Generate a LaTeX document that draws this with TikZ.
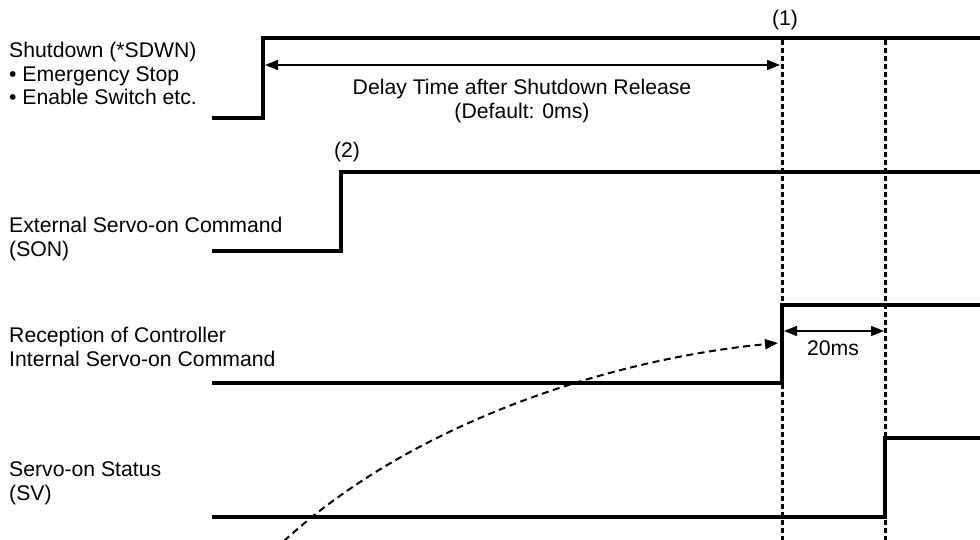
\documentclass[tikz,border=0pt]{standalone}
\usepackage{fontspec}
\setmainfont{Liberation Sans}
\usetikzlibrary{arrows.meta}
\begin{document}
\begin{tikzpicture}[x=1pt,y=-1pt,
  lbl/.style={anchor=base west,inner sep=0pt,align=left,font=\fontsize{21.2}{23.5}\selectfont},
  txt/.style={inner sep=0pt,align=center,font=\fontsize{21.2}{23.5}\selectfont},
  sig/.style={line width=4pt,line join=miter,line cap=butt},
  vdot/.style={line width=3pt,dash pattern=on 5pt off 3pt},
  dim/.style={line width=1.5pt,{Triangle[length=13pt,width=10pt]}-{Triangle[length=13pt,width=10pt]}},
  curv/.style={line width=2pt,dash pattern=on 7pt off 4.5pt,-{Triangle[length=13pt,width=10pt]}}]
\useasboundingbox[fill=white] (0,0) rectangle (980,540);

% labels (anchored at the baseline of their last line)
\node[lbl] (l1) at (9,105) {Shutdown (*SDWN)\\ \textbullet\ Emergency Stop\\ \textbullet\ Enable Switch etc.};
\node[lbl] (l2) at (9,256) {External Servo-on Command\\ (SON)};
\node[lbl] (l3) at (9,366) {Reception of Controller\\ Internal Servo-on Command};
\node[lbl] (l4) at (9,500) {Servo-on Status\\ (SV)};

% key points
\coordinate (s1a) at (212,118); \coordinate (s1r) at (263,118); \coordinate (s1h) at (263,38); \coordinate (s1e) at (982,38);
\coordinate (s2a) at (212,251); \coordinate (s2r) at (341,251); \coordinate (s2h) at (341,172); \coordinate (s2e) at (982,172);
\coordinate (s3a) at (212,383); \coordinate (s3r) at (782,383); \coordinate (s3h) at (782,305); \coordinate (s3e) at (982,305);
\coordinate (s4a) at (212,517); \coordinate (s4r) at (885,517); \coordinate (s4h) at (885,438); \coordinate (s4e) at (982,438);

% vertical dotted lines
\coordinate (v1t) at (782,40); \coordinate (v1b) at (782,540);
\coordinate (v2t) at (885,40); \coordinate (v2b) at (885,540);
\draw[vdot] (v1t) -- (v1b);
\draw[vdot] (v2t) -- (v2b);

% signals
\draw[sig] (s1a) -- (s1r) -- (s1h) -- (s1e);
\draw[sig] (s2a) -- (s2r) -- (s2h) -- (s2e);
\draw[sig] (s3a) -- (s3r) -- (s3h) -- (s3e);
\draw[sig] (s4a) -- (s4r) -- (s4h) -- (s4e);

% dimension arrows
\coordinate (d1a) at (265,65); \coordinate (d1b) at (780,65);
\draw[dim] (d1a) -- (d1b);
\node[txt] (dly) at (522,101) {Delay Time after Shutdown Release\\ (Default: 0ms)};
\coordinate (d2a) at (784,331); \coordinate (d2b) at (884,331);
\draw[dim] (d2a) -- (d2b);
\node[txt] (t20) at (833,348) {20ms};

% markers
\node[txt] (m1) at (785,20) {(1)};
\node[txt] (m2) at (347,152) {(2)};

% dashed curve
\coordinate (cs) at (284,541); \coordinate (ce) at (778,343);
\draw[curv] (cs) .. controls (418,418) and (620,358) .. (ce);
\end{tikzpicture}
\end{document}
